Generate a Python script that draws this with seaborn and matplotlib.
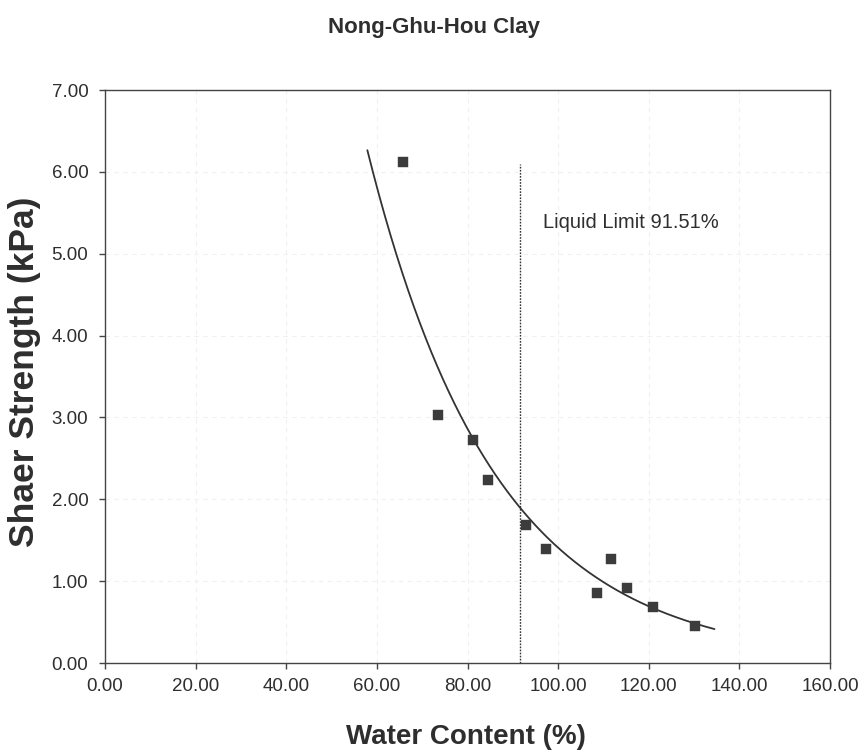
import numpy as np
import pandas as pd
import matplotlib
matplotlib.use("Agg")
import matplotlib.pyplot as plt
import seaborn as sns
from matplotlib.ticker import FormatStrFormatter

# Data
water_content = [65.7, 73.5, 81.3, 84.6, 92.9, 97.4, 111.6, 108.6, 115.3, 120.9, 130.3]
shear_strength = [6.12, 3.03, 2.73, 2.23, 1.69, 1.39, 1.27, 0.86, 0.92, 0.68, 0.45]
liquid_limit = 91.51
liquid_limit_top = 6.10
curve_range = [57.9, 134.5]
x_ticks = [0, 20, 40, 60, 80, 100, 120, 140, 160]
y_ticks = [0, 1, 2, 3, 4, 5, 6, 7]

df = pd.DataFrame({"w": water_content, "s": shear_strength})

# exponential trendline (least squares on ln y)
b, ln_a = np.polyfit(df["w"], np.log(df["s"]), 1)
xc = np.linspace(curve_range[0], curve_range[1], 300)
curve = pd.DataFrame({"w": xc, "s": np.exp(ln_a) * np.exp(b * xc)})

sns.set_theme(style="white")
plt.rcParams["font.family"] = ["Liberation Sans", "DejaVu Sans"]

W, H = 858, 755
fig = plt.figure(figsize=(W / 100, H / 100), dpi=100)
ax = fig.add_axes([105 / W, 1 - 663 / H, (830 - 105) / W, (663 - 90) / H])

ink = "#2e2e2e"

sns.lineplot(data=curve, x="w", y="s", ax=ax, color="#333333", lw=1.3, sort=False)
sns.scatterplot(data=df, x="w", y="s", ax=ax, marker="s", s=52, color="#3c3c3c",
                edgecolor="#3c3c3c", linewidth=0.3, zorder=5)
ax.plot([liquid_limit, liquid_limit], [0, liquid_limit_top], ls=(0, (1.2, 1.0)),
        color="#333333", lw=1.0)

ax.set_xlim(0, 160)
ax.set_ylim(0, 7)
ax.set_xticks(x_ticks)
ax.set_yticks(y_ticks)
ax.xaxis.set_major_formatter(FormatStrFormatter("%.2f"))
ax.yaxis.set_major_formatter(FormatStrFormatter("%.2f"))
ax.grid(True, color="#f0f0f0", ls=(0, (4, 4)), lw=0.8)
ax.set_axisbelow(True)

for sp in ax.spines.values():
    sp.set_color("#444444")
    sp.set_linewidth(1.0)

ax.tick_params(axis="x", direction="out", length=4, width=1, color="#444444",
               labelsize=13.5, labelcolor=ink, pad=7, bottom=True)
ax.tick_params(axis="y", direction="out", length=4, width=1, color="#444444",
               labelsize=13.5, labelcolor=ink, pad=8, left=True)

ax.set_xlabel("")
ax.set_ylabel("")

ax.text(96.7, 5.38, "Liquid Limit 91.51%", fontsize=14.5, color=ink,
        ha="left", va="center")

fig.text(434 / W, 1 - 28 / H, "Nong-Ghu-Hou Clay", fontsize=16,
         fontweight="bold", color=ink, ha="center", va="center")
fig.text(466 / W, 1 - 737 / H, "Water Content (%)", fontsize=20,
         fontweight="bold", color=ink, ha="center", va="center")
fig.text(25 / W, 1 - 372 / H, "Shaer Strength (kPa)", fontsize=25.5,
         fontweight="bold", color=ink, ha="center", va="center", rotation=90)

fig.savefig("out.png", dpi=100, facecolor="white")
